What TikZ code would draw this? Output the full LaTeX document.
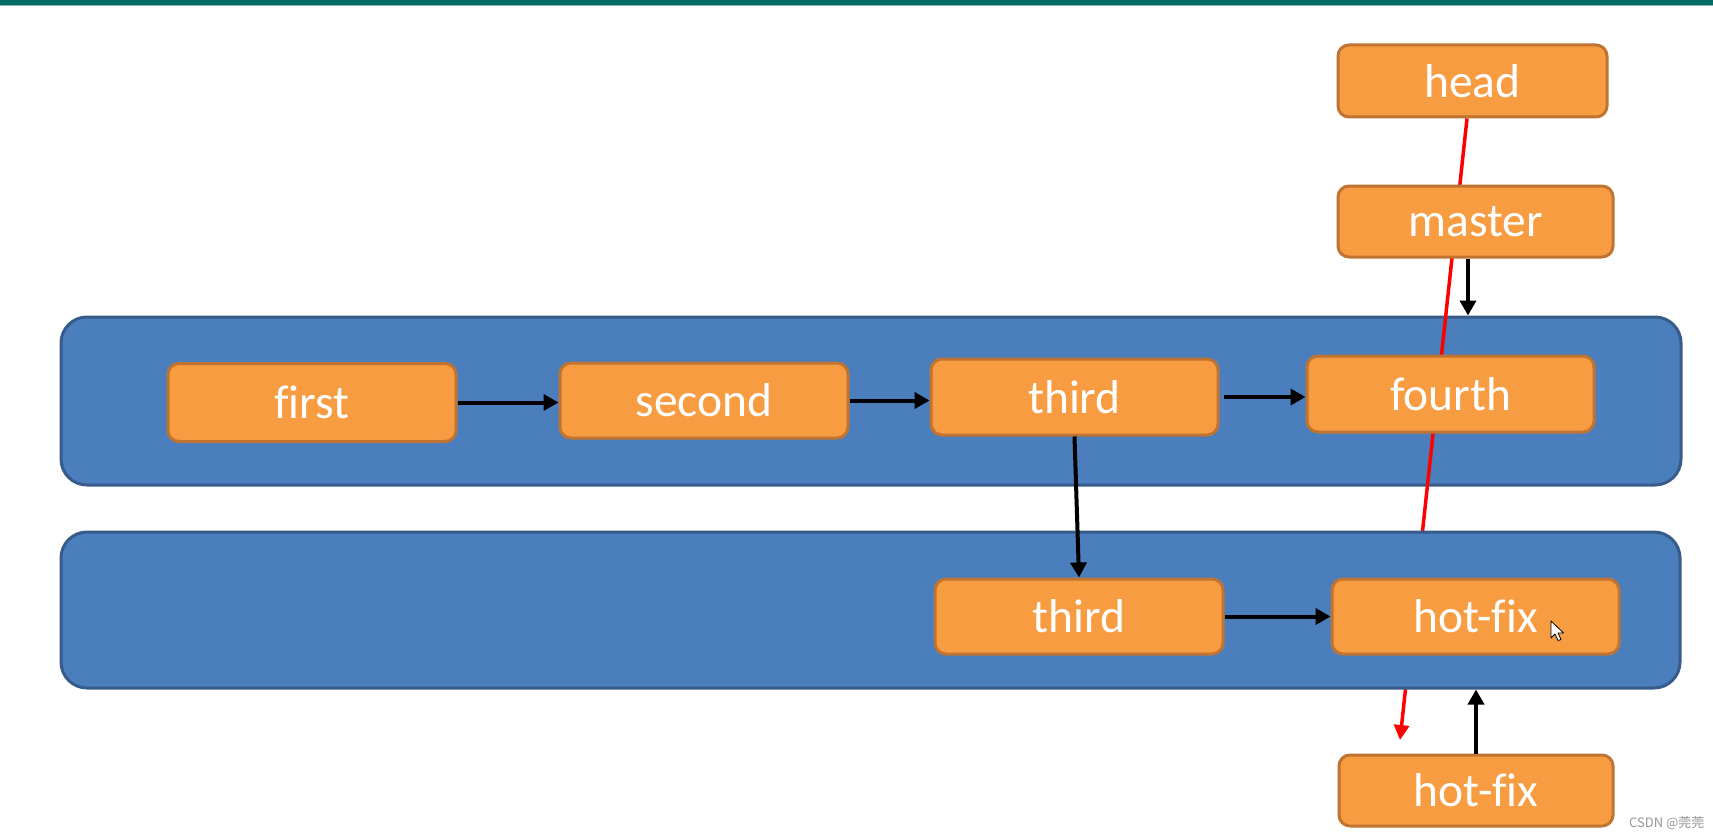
\documentclass[tikz,border=0pt]{standalone}
\usepackage{fontspec}
\setmainfont{Carlito}[Ligatures=NoCommon]
\newfontfamily\cjkfont{Noto Sans CJK SC}
\usetikzlibrary{arrows.meta,calc}
\definecolor{boxfill}{RGB}{248,156,66}
\definecolor{boxline}{RGB}{192,116,50}
\definecolor{contfill}{RGB}{74,126,189}
\definecolor{contline}{RGB}{56,92,138}
\definecolor{barteal}{RGB}{0,108,100}
\definecolor{barlight}{RGB}{130,185,180}
\definecolor{wmgray}{RGB}{150,150,150}
\begin{document}
\begin{tikzpicture}[x=1pt,y=-1pt,
  orangebox/.style={draw=boxline, fill=boxfill, line width=3pt, rounded corners=11pt,
    inner sep=0pt, text=white, font=\fontsize{47.5}{52}\selectfont},
  container/.style={draw=contline, fill=contfill, line width=3pt, rounded corners=26pt, inner sep=0pt},
  blackarrow/.style={black, line width=4pt, -{Triangle[length=15pt,width=16pt]}},
  redarrow/.style={red, line width=3.5pt, -{Triangle[length=15pt,width=15pt]}}]
\useasboundingbox (0,0) rectangle (1713,840);
\fill[white] (0,0) rectangle (1713,840);
% top bar
\fill[barteal] (0,0) rectangle (1713,5);
\fill[barlight] (0,5) rectangle (1713,6.5);
% top container
\node[container, minimum width=1620pt, minimum height=168pt] (topc) at (871,401) {};
% head
\node[orangebox, minimum width=269pt, minimum height=72pt] (head) at (1472.5,81) {head};
% red line
\coordinate (redend) at (1400,740);
\draw[redarrow] ([xshift=-5.5pt]head.south) -- (redend);
% bottom container
\node[container, minimum width=1619pt, minimum height=156pt] (botc) at (870.5,610) {};
% orange boxes
\node[orangebox, minimum width=275pt, minimum height=71pt] (master) at (1475.5,221.5) {master};
\node[orangebox, minimum width=288pt, minimum height=78pt] (first) at (312,402.5) {first};
\node[orangebox, minimum width=288pt, minimum height=75pt] (second) at (704,400.5) {second};
\node[orangebox, minimum width=287pt, minimum height=76pt] (third) at (1074.5,397) {third};
\node[orangebox, minimum width=287pt, minimum height=76pt] (fourth) at (1450.5,394) {fourth};
\node[orangebox, minimum width=288pt, minimum height=75pt] (third2) at (1079,616.5) {third};
\node[orangebox, minimum width=287pt, minimum height=75pt] (hotfix) at (1475.5,616.5) {hot-fix};
\node[orangebox, minimum width=274pt, minimum height=71pt] (hotfixb) at (1476,790.5) {hot-fix};
% black arrows
\draw[blackarrow] (first.east) -- (first.east -| second.west);
\draw[blackarrow] (second.east) -- (second.east -| third.west);
\draw[blackarrow] ([xshift=4pt]third.east) -- (third.east -| fourth.west);
\draw[blackarrow] (third.south) -- (third2.north);
\draw[blackarrow] (third2.east) -- (third2.east -| hotfix.west);
\draw[blackarrow] ([xshift=-7.5pt]master.south) -- ([xshift=-7.5pt]master.south |- topc.north);
\draw[blackarrow] (hotfixb.north) -- (hotfixb.north |- botc.south);
% mouse cursor
\draw[black, fill=white, line width=0.8pt, line join=round]
  (1551,621) -- (1551,638) -- (1555,634) -- (1558,640.5) -- (1561,639.5) -- (1558,633) -- (1563.5,633) -- cycle;
% watermark
\node[anchor=west, text=wmgray, inner sep=0pt, font=\fontsize{13}{15}\selectfont] (wm) at (1629,823) {\cjkfont CSDN @莞莞};
\end{tikzpicture}
\end{document}
